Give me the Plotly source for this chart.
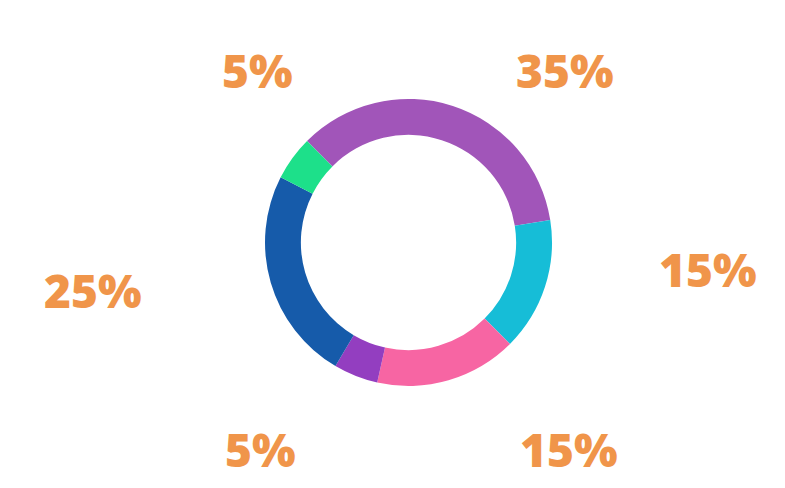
import plotly.graph_objects as go

categories = ["A", "B", "C", "D", "E", "F"]
values = [35, 15, 16, 5, 24, 5]
colors = ["#A155B9", "#16BDD7", "#F765A3", "#933EC0", "#165BAA", "#1DE08A"]
label_texts = ["35%", "15%", "15%", "5%", "25%", "5%"]
label_x = [565, 708, 569, 260, 93, 257]
label_y = [70, 269, 449, 449, 290, 70]

W, H = 785, 488
OFF = 8  # page body offset

fig = go.Figure(go.Pie(
    labels=categories,
    values=values,
    hole=0.75,
    sort=False,
    direction="clockwise",
    rotation=-45,
    marker=dict(colors=colors, line=dict(width=0)),
    textinfo="none",
    hoverinfo="label+percent",
    domain=dict(x=[(265 - OFF) / W, (552 - OFF) / W],
                y=[1 - (386 - OFF) / H, 1 - (99 - OFF) / H]),
    showlegend=False,
))

for t, x, y in zip(label_texts, label_x, label_y):
    fig.add_annotation(
        x=(x - OFF) / W, y=1 - (y - OFF) / H, xref="paper", yref="paper",
        text=t, showarrow=False, xanchor="center", yanchor="middle",
        font=dict(family="Open Sans", size=46, color="#F0954A", weight=800),
    )

fig.update_layout(
    width=W, height=H,
    margin=dict(l=0, r=0, t=0, b=0),
    paper_bgcolor="white", plot_bgcolor="white",
)

fig.write_html("out.html")
